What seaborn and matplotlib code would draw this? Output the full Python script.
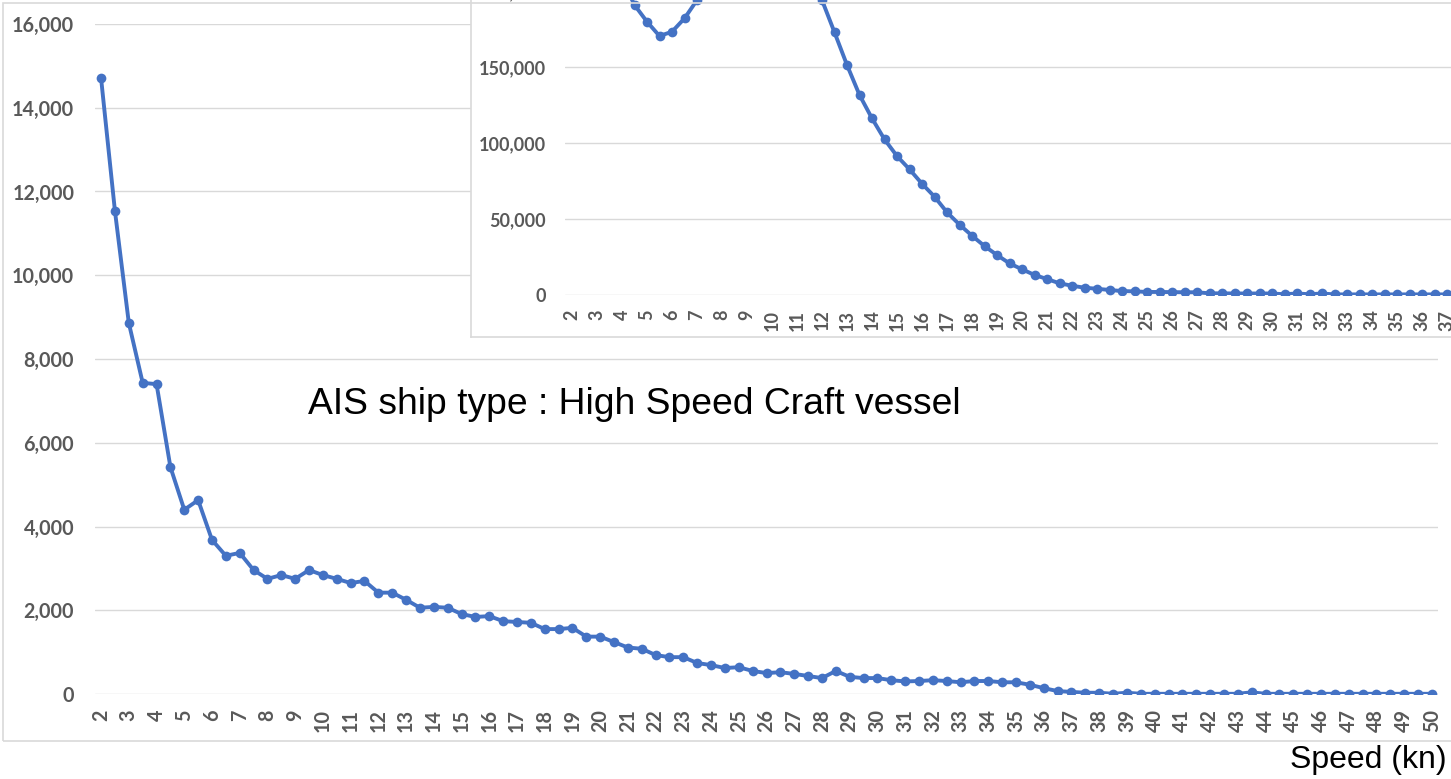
import numpy as np
import pandas as pd
import seaborn as sns
import matplotlib.pyplot as plt
from matplotlib.ticker import FuncFormatter, MultipleLocator
from matplotlib.patches import Rectangle

# main chart: counts per speed bin (2 .. 50 kn, half-knot steps)
speed_main = [2 + 0.5 * i for i in range(97)]
count_main = [
    14700, 11530, 8860, 7430, 7400, 5420, 4400, 4630, 3680, 3300,
    3370, 2960, 2750, 2840, 2750, 2960, 2840, 2750, 2650, 2700,
    2420, 2420, 2250, 2060, 2080, 2060, 1910, 1840, 1860, 1740,
    1720, 1700, 1550, 1550, 1580, 1370, 1370, 1240, 1110, 1080,
    930, 880, 880, 740, 690, 620, 640, 550, 500, 520,
    480, 430, 380, 550, 410, 380, 380, 330, 300, 310,
    330, 310, 280, 310, 310, 280, 280, 220, 140, 70,
    50, 30, 30, 5, 30, 5, 5, 5, 5, 5,
    5, 5, 5, 40, 5, 5, 5, 5, 5, 5,
    5, 5, 5, 5, 5, 5, 5,
]

# inset chart: 2 .. 37 kn, half-knot steps
speed_inset = [2 + 0.5 * i for i in range(71)]
count_inset = [
    210000, 225000, 230000, 222000, 208000, 190800, 179800, 170400, 173200, 182000,
    194000, 205000, 215000, 222000, 226000, 228000, 226000, 220000, 212000, 203000,
    194000, 172800, 151300, 131600, 116200, 102400, 91400, 82700, 73200, 64700,
    54400, 46300, 39000, 32200, 26300, 20800, 16900, 13200, 10500, 7700,
    6100, 4800, 4100, 3300, 2600, 2400, 2000, 2000, 1900, 1800,
    1800, 1100, 1100, 1000, 1000, 1000, 1000, 500, 1000, 500,
    1000, 400, 400, 400, 400, 400, 400, 400, 400, 400,
    400,
]

title_text = "AIS ship type : High Speed Craft vessel"
xlabel_text = "Speed (kn)"

blue = "#4472C4"
grid = "#D9D9D9"
tick_col = "#595959"

sns.set_style("white")
plt.rcParams['font.family'] = ['Lato', 'DejaVu Sans']

W, H = 1451, 779
fig = plt.figure(figsize=(W / 100, H / 100), dpi=100)


def px(x0, y0, x1, y1):
    # pixel box (top-left / bottom-right) to figure fraction
    return [x0 / W, 1 - y1 / H, (x1 - x0) / W, (y1 - y0) / H]


thousands = FuncFormatter(lambda v, p: f"{int(v):,}")


def style_axis(a, size, ypad, xpad):
    a.grid(axis="y", color=grid, lw=1)
    for s in a.spines.values():
        s.set_visible(False)
    a.tick_params(axis="y", length=0, labelcolor=tick_col, labelsize=size, pad=ypad)
    a.tick_params(axis="x", length=0, labelcolor=tick_col, labelsize=size, pad=xpad)
    for lab in a.get_xticklabels() + a.get_yticklabels():
        lab.set_fontweight("bold")
    a.set_xlabel("")
    a.set_ylabel("")


# outer frame of the main chart
fig.patches.append(Rectangle((3 / W, 1 - 741 / H), 1.2, (741 - 3) / H,
                             transform=fig.transFigure, fill=False,
                             edgecolor=grid, lw=1.2))

ax = fig.add_axes(px(95, 24, 1438, 694))
df_main = pd.DataFrame({"speed": speed_main, "count": count_main})
sns.lineplot(data=df_main, x="speed", y="count", ax=ax, color=blue,
             marker="o", markersize=7, markeredgewidth=0, linewidth=2.8)
ax.set_xlim(1.78, 50.22)
ax.set_ylim(0, 16000)
ax.yaxis.set_major_locator(MultipleLocator(2000))
ax.yaxis.set_major_formatter(thousands)
ax.set_xticks(range(2, 51))
ax.set_xticklabels([str(i) for i in range(2, 51)], rotation=90)
style_axis(ax, 14.2, 15, 11)

fig.text(634 / W, 1 - 405 / H, title_text, ha="center", va="center",
         fontsize=26.8, family="Liberation Sans", color="black")
fig.text(1447 / W, 1 - 760 / H, xlabel_text, ha="right", va="center",
         fontsize=23, family="Liberation Sans", color="black")

# inset frame (white box running off the top and right edges)
frame = fig.add_axes(px(471, -40, 1500, 337))
frame.set_xticks([])
frame.set_yticks([])
frame.set_facecolor("white")
for s in frame.spines.values():
    s.set_color(grid)
    s.set_linewidth(1.2)

ins = fig.add_axes(px(565, -85, 1452, 295))
ins.patch.set_alpha(0)
df_ins = pd.DataFrame({"speed": speed_inset, "count": count_inset})
sns.lineplot(data=df_ins, x="speed", y="count", ax=ins, color=blue,
             marker="o", markersize=7, markeredgewidth=0, linewidth=2.8)
ins.set_xlim(1.72, 37.2)
ins.set_ylim(0, 250000)
ins.yaxis.set_major_locator(MultipleLocator(50000))
ins.yaxis.set_major_formatter(thousands)
ins.set_xticks(range(2, 38))
ins.set_xticklabels([str(i) for i in range(2, 38)], rotation=90)
style_axis(ins, 13, 14, 10.5)

fig.savefig("out.png", dpi=100)
